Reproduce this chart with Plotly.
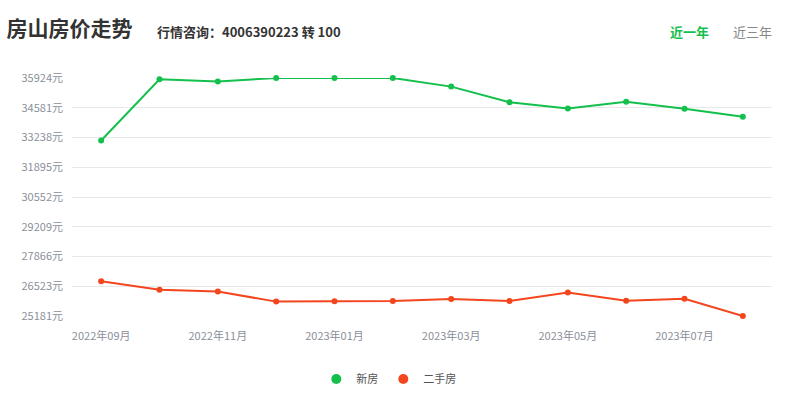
import plotly.graph_objects as go

months = ["2022年09月", "2022年10月", "2022年11月", "2022年12月", "2023年01月", "2023年02月",
          "2023年03月", "2023年04月", "2023年05月", "2023年06月", "2023年07月", "2023年08月"]
new_house = [33103, 35870, 35766, 35924, 35920, 35924, 35535, 34832, 34547, 34850, 34534, 34173]
second_house = [26745, 26361, 26287, 25830, 25845, 25860, 25948, 25860, 26243, 25874, 25963, 25181]
y_ticks = [25181, 26523, 27866, 29209, 30552, 31895, 33238, 34581, 35924]
y_tick_text = [f"{v}元" for v in y_ticks]
x_tick_labels = ["2022年09月", "2022年11月", "2023年01月", "2023年03月", "2023年05月", "2023年07月"]

GREEN = "#13c04c"
RED = "#f4461e"
FONT = "Noto Sans CJK SC"

fig = go.Figure()
fig.add_trace(go.Scatter(x=months, y=new_house, mode="lines+markers", name="新房",
                         line=dict(color=GREEN, width=2), marker=dict(size=6, color=GREEN),
                         showlegend=False, cliponaxis=False))
fig.add_trace(go.Scatter(x=months, y=second_house, mode="lines+markers", name="二手房",
                         line=dict(color=RED, width=2), marker=dict(size=6, color=RED),
                         showlegend=False, cliponaxis=False))
# legend-only entries (circle symbols)
fig.add_trace(go.Scatter(x=[None], y=[None], mode="markers", name="新房",
                         marker=dict(size=10, color=GREEN)))
fig.add_trace(go.Scatter(x=[None], y=[None], mode="markers", name="二手房",
                         marker=dict(size=10, color=RED)))

fig.update_layout(
    width=800, height=398,
    margin=dict(l=72, r=28, t=78, b=82),
    paper_bgcolor="white", plot_bgcolor="white",
    font=dict(family=FONT, size=11, color="#8a8f99"),
    title=dict(text="<b>房山房价走势</b>", xref="container", x=0.008, xanchor="left",
               yref="container", y=1 - 29 / 398, yanchor="middle",
               font=dict(family=FONT, size=21, color="#333333")),
    legend=dict(orientation="h", xref="container", x=0.486, xanchor="center",
                yref="container", y=1 - 379 / 398, yanchor="middle",
                font=dict(family=FONT, size=11, color="#555555"),
                itemwidth=30, tracegroupgap=0),
    xaxis=dict(type="category", categoryorder="array", categoryarray=months,
               range=[-0.5, 11.5], tickmode="array", tickvals=x_tick_labels,
               ticktext=x_tick_labels, showgrid=False, zeroline=False,
               showline=False, ticks="", ticklabelstandoff=12,
               tickfont=dict(size=11, color="#8a8f99")),
    yaxis=dict(range=[25181, 35924], tickmode="array", tickvals=y_ticks, ticktext=y_tick_text,
               showgrid=True, gridcolor="#e8e8e8", gridwidth=1, zeroline=False,
               showline=False, ticks="", ticklabelstandoff=8,
               tickfont=dict(size=11, color="#8a8f99")),
    hovermode="x",
)

fig.add_annotation(text="<b>行情咨询：4006390223 转 100</b>", xref="paper", yref="paper",
                   x=(155 - 72) / 700, y=1 + (78 - 31) / 238, xanchor="left", yanchor="middle",
                   showarrow=False, font=dict(family=FONT, size=13, color="#333333"))
fig.add_annotation(text="<b>近一年</b>", xref="paper", yref="paper",
                   x=(689 - 72) / 700, y=1 + (78 - 31) / 238, xanchor="center", yanchor="middle",
                   showarrow=False, font=dict(family=FONT, size=13, color=GREEN))
fig.add_annotation(text="近三年", xref="paper", yref="paper",
                   x=(752 - 72) / 700, y=1 + (78 - 31) / 238, xanchor="center", yanchor="middle",
                   showarrow=False, font=dict(family=FONT, size=13, color="#888888"))

fig.write_html("out.html", config={"displayModeBar": False},
               post_script="document.body.style.margin='0';")
